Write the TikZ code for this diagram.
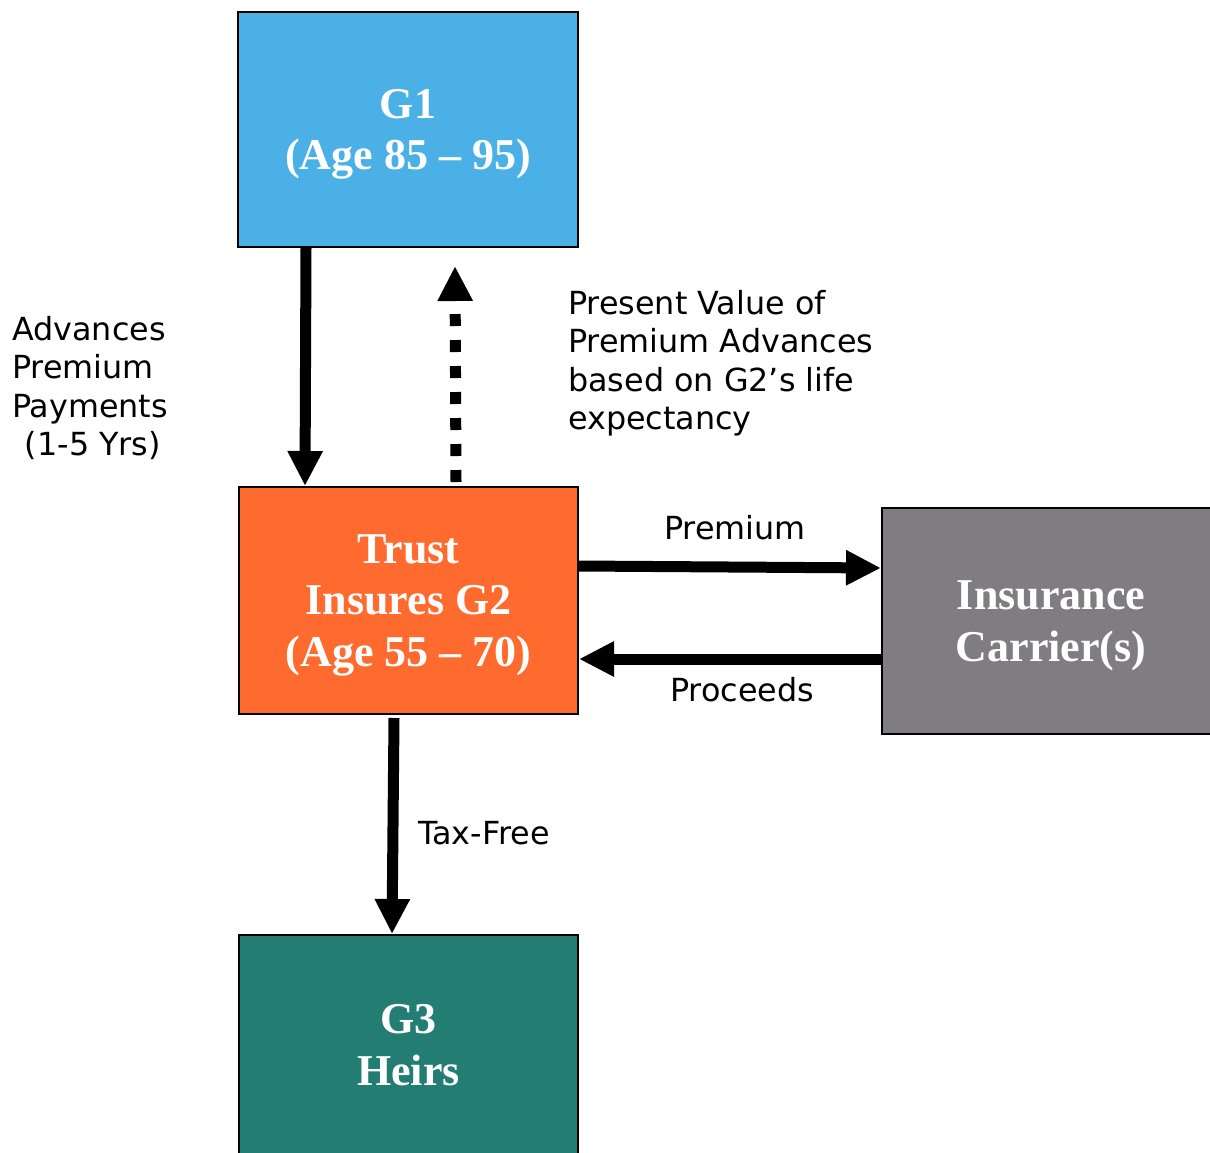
\documentclass[tikz,border=0pt]{standalone}
\usepackage{fontspec}
\setmainfont{Liberation Serif}
\setsansfont{DejaVu Sans}
\usetikzlibrary{arrows.meta}

\definecolor{gonefill}{RGB}{74,176,230}
\definecolor{trustfill}{RGB}{255,107,46}
\definecolor{carrierfill}{RGB}{127,125,130}
\definecolor{gthreefill}{RGB}{35,125,114}

\begin{document}
\begin{tikzpicture}[x=1pt,y=-1pt,
    genbox/.style={rectangle,draw=black,line width=2pt,text=white,align=center,text depth=0pt,
        font=\fontsize{44}{51.5}\selectfont\bfseries},
    note/.style={inner sep=0pt,font=\sffamily\fontsize{31.8}{38.5}\selectfont},
    flow/.style={line width=11pt,-{Triangle[width=33pt,length=35pt]}},
   ]
    \useasboundingbox (0,0) rectangle (1210,1152);

    \node (g1)      [genbox,fill=gonefill,minimum width=340pt,minimum height=235pt] at (408,129.5) {G1\\(Age 85 -- 95)};
    \node (trust)   [genbox,fill=trustfill,minimum width=339pt,minimum height=227pt] at (408.5,600.5) {Trust\\Insures G2\\(Age 55 -- 70)};
    \node (carrier) [genbox,fill=carrierfill,minimum width=338pt,minimum height=226pt] at (1051,621) {Insurance\\Carrier(s)};
    \node (g3)      [genbox,fill=gthreefill,minimum width=339pt,minimum height=220pt] at (408.5,1045) {G3\\Heirs};

    \node (advances) [note,anchor=north west,align=left] at (12,316) {Advances\\Premium\\Payments\\\hspace*{0.4em}(1-5 Yrs)};
    \node (present)  [note,anchor=north west,align=left] at (568,290) {Present Value of\\Premium Advances\\based on G2’s life\\expectancy};
    \node (premium)  [note,anchor=base] at (735,539) {Premium};
    \node (proceeds) [note,anchor=base] at (742,701) {Proceeds};
    \node (taxfree)  [note,anchor=base west] at (418,844) {Tax-Free};

    \draw[flow] ([xshift=69pt]g1.south west) -- ([xshift=67pt]trust.north west);
    \draw[flow,dash pattern=on 12pt off 14pt] ([xshift=218pt,yshift=4pt]trust.north west) -- ([xshift=218pt,yshift=-18pt]g1.south west);
    \draw[flow] ([yshift=-80pt]trust.north east) -- ([yshift=-61pt]carrier.north west);
    \draw[flow] ([yshift=-152pt]carrier.north west) -- ([yshift=-173pt]trust.north east);
    \draw[flow] ([xshift=156pt,yshift=-3pt]trust.south west) -- ([xshift=154pt]g3.north west);
  \end{tikzpicture}
\end{document}
